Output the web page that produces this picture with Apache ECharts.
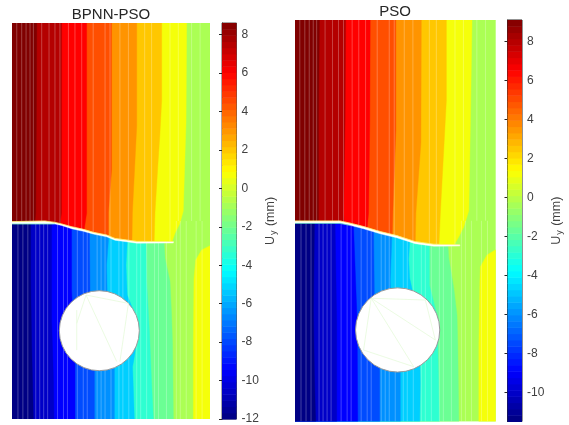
<!DOCTYPE html>
<html><head><meta charset="utf-8">
<style>html,body{margin:0;padding:0;background:#fff}#c{width:569px;height:425px}</style>
<script src="https://cdn.jsdelivr.net/npm/echarts@6/dist/echarts.min.js"></script>
</head><body><div id="c"></div>
<script>
// Model coordinates: x 0..100, y 0..200 ; values in mm
const titles = ['BPNN-PSO', 'PSO'];
const cbRange1 = [-12, 8.6];
const cbRange2 = [-11.5, 9.1];
const ticks1 = [-12,-10,-8,-6,-4,-2,0,2,4,6,8];
const ticks2 = [-10,-8,-6,-4,-2,0,2,4,6,8];
// displacement of each filled band, lowest to highest
const bandValues1 = [-11.9,-10.56,-9.42,-7.88,-6.52,-5.24,-3.35,-2.11,-0.83,0.67,2.0,3.04,4.42,6.03,7.53,8.6];
const bandValues2 = [-11.4,-10.06,-8.92,-7.38,-6.02,-4.74,-2.85,-1.61,-0.33,1.17,2.5,3.54,4.92,6.53,8.03,9.1];

const crackUpper1 = [[0,99.7],[16.7,100],[21.7,99.3],[25.1,98.5],[30.1,97.1],[36,95.8],[41,94.3],[47.8,92.9],[52,91.2],[57.9,90.4],[63,89.7],[81.5,89.6]];
const crackLower1 = [[0,98.5],[16.7,98.5],[21.7,98.5],[25.1,97.7],[30.1,96.1],[36,94.8],[41,93.4],[47.8,92],[52,90.3],[57.9,89.5],[63,88.8],[81.5,88.9]];
const crackUpper2 = [[0,99.9],[22.5,99.9],[27.5,98.8],[34.2,97.1],[42.5,94.6],[50.8,92.6],[60,89.6],[69.2,88.3],[82.2,88]];
const crackLower2 = [[0,98.7],[22.5,98.7],[27.5,97.7],[34.2,96],[42.5,93.5],[50.8,91.5],[60,88.6],[69.2,87.3],[82.2,87.4]];

// contour lines above the crack, left to right, top to crack
const upper1 = [
 [[12.5,200],[12.3,150],[12,104],[11.6,99.5]],
 [[25.1,200],[25,104],[24.3,98.7]],
 [[37.7,200],[37.7,104],[36.5,96]],
 [[50.3,200],[50.3,126],[48.7,104],[48.7,93]],
 [[63,200],[63,148],[60.8,104],[60.6,90.2]],
 [[75.6,200],[75.6,161],[74.7,144],[73.6,127],[72.2,104],[71.8,89.6]],
 [[88.2,200],[87.9,150],[86.5,105],[84.8,98.8],[82.3,93.8],[81,90]]
];
const upper2 = [
 [[12.2,200],[11.7,150],[11.7,104],[11.7,99]],
 [[25.3,200],[25,150],[24.2,104],[24.5,98.8]],
 [[37.5,200],[37.3,150],[36.7,104],[36,96]],
 [[50.3,200],[50.3,145],[48.8,104],[48.5,92.8]],
 [[63,200],[62.8,139],[60.3,104],[60,89.5]],
 [[75.5,200],[75.5,160],[72.5,104],[71.8,88]],
 [[88.3,200],[87.5,150],[86.7,105],[84.2,97],[81.7,92],[79.5,88.2]]
];
// contour lines below the crack, left to right, crack to bottom
const lower1 = [
 [[9.4,98],[9.4,71.9],[9.9,38.2],[10.8,0]],
 [[20,97.7],[20,50],[20.9,21.4],[21.2,0]],
 [[30.1,96],[30.1,65.2],[31.8,27.3],[31.8,0]],
 [[39.1,94.6],[39.4,64.3],[41.6,24.7],[41.6,0]],
 [[48.7,90],[47.8,77.8],[48.1,61.8],[51.7,26.4],[51.7,0]],
 [[58.2,89],[57.6,77.8],[58.2,62.6],[63.8,48.3],[62.1,33.2],[60.9,26.4],[61.8,0]],
 [[67.7,87.9],[68,69.4],[69.4,44.1],[70.5,18],[71.4,0]],
 [[76.8,88.7],[77.3,81.1],[79.8,69.4],[80.6,52.5],[81.1,37.4],[81.5,0]]
];
const lower2 = [
 [[9.7,98.4],[9.2,55.6],[9.7,22.3],[10.3,0]],
 [[20,97.5],[20.8,50],[20.8,22],[20.8,0]],
 [[29.2,97],[31,50],[31.3,0]],
 [[39.2,94],[39.6,60],[42.2,25],[42.2,0]],
 [[48.3,91.5],[47.5,70],[48,50],[52.5,25],[52.5,0]],
 [[57.2,89],[56.7,81],[57.2,71.4],[62,50],[62.5,19],[62.2,0]],
 [[67,88],[67,68],[70.8,53],[71.5,25],[72,0]],
 [[76.3,87.2],[76.7,81.3],[79.2,66.4],[80.8,53],[81.2,38],[81.7,0]]
];
// closed positive-displacement lobe at the lower right
const lobe1 = [[100,87.5],[95.8,85.4],[92.8,80.3],[91.9,71],[91.6,37.4],[91.6,0]];
const lobe2 = [[100,85.5],[95.8,83],[92.5,77.2],[92.2,69.7],[91.7,38],[91.7,0]];

const hole1 = [44.1,44.6,20.2];
const hole2 = [51.2,45.6,21];
const holeMesh1 = [[[37.4,62.6],[52.9,29]],[[37.4,62.6],[32.7,48.3]],[[58.8,58.4],[54.5,29]],[[37.4,62.6],[58.8,58.4]],[[32.7,55],[32.7,34.8]]];
const holeMesh2 = [[[38,61.4],[70,40.6]],[[38,61.4],[59.2,27.3]],[[38,61.4],[34.2,35.6]],[[34.2,35.6],[59.2,27.3]],[[38,61.4],[65,60.5]],[[65,60.5],[70,40.6]]];
const streaksUp = [2.4,4.9,7.1,9.1,10.8,15,18.7,21.7,24.2,28.5,31.8,35.2,41,47,49.5,54.5,58.8,67,70.5,79.8,84,90.7,95];
const streaksLow = [3,5.5,8,12,14,16,18,23,26,28,33,36,38,43,45,47,50,54,56,59,63,65,68,72,74,78,83,85,88,93,96];

function jet(t){
  const c=v=>Math.round(255*Math.max(0,Math.min(1,v)));
  return `rgb(${c(Math.min(4*t-1.5,-4*t+4.5))},${c(Math.min(4*t-0.5,-4*t+3.5))},${c(Math.min(4*t+0.5,-4*t+2.5))})`;
}
function crackY(cr,x){
  for(let i=1;i<cr.length;i++){ if(x<=cr[i][0]){const a=cr[i-1],b=cr[i];return a[1]+(b[1]-a[1])*(x-a[0])/(b[0]-a[0]);} }
  return cr[cr.length-1][1];
}
function buildShapes(p){
  const col=k=>jet((p.vals[k]-p.range[0])/(p.range[1]-p.range[0]));
  const S=[];
  S.push({t:'poly',pts:[[0,0],[100,0],[100,200],[0,200]],fill:col(8)});
  S.push({t:'poly',pts:[...p.lobe,[100,0]],fill:col(9)});
  for(let i=p.upper.length-1;i>=0;i--){
    const b=p.upper[i],e=b[b.length-1][0];
    S.push({t:'poly',pts:[[0,200],...b,[e,crackY(p.cu,e)],...p.cu.filter(q=>q[0]<e).reverse()],fill:col(15-i)});
  }
  for(let i=p.lower.length-1;i>=0;i--){
    const b=p.lower[i],s=b[0][0];
    S.push({t:'poly',pts:[...p.cl.filter(q=>q[0]<s),[s,crackY(p.cl,s)],...b,[0,0]],fill:col(i)});
  }
  p.streaksUp.forEach(x=>S.push({t:'line',pts:[[x,200],[x,x<81?crackY(p.cu,x):100]],stroke:'rgba(255,255,255,0.26)',w:1}));
  p.streaksLow.forEach(x=>S.push({t:'line',pts:[[x,x<81?crackY(p.cl,x):100],[x,0]],stroke:'rgba(255,255,255,0.26)',w:1}));
  S.push({t:'poly',pts:[...p.cu,...p.cl.slice().reverse()],fill:'#fff'});
  S.push({t:'line',pts:p.cu,stroke:'rgba(255,240,80,0.8)',w:0.8});
  S.push({t:'line',pts:p.cl.slice(0,3),stroke:'rgba(60,230,170,0.7)',w:0.8});
  S.push({t:'circle',c:p.hole});
  p.mesh.forEach(m=>S.push({t:'line',pts:m,stroke:'#e6fadb',w:0.8}));
  return S;
}
function contourSeries(S,idx){
  return {type:'custom',xAxisIndex:idx,yAxisIndex:idx,coordinateSystem:'cartesian2d',silent:true,animation:false,clip:true,
    data:S.map((_,i)=>[i]),
    renderItem:(params,api)=>{
      const s=S[params.dataIndex];
      if(s.t==='poly') return {type:'polygon',shape:{points:s.pts.map(q=>api.coord(q))},style:{fill:s.fill,stroke:s.fill,lineWidth:0.4}};
      if(s.t==='line') return {type:'polyline',shape:{points:s.pts.map(q=>api.coord(q))},style:{fill:'none',stroke:s.stroke,lineWidth:s.w}};
      const c=api.coord([s.c[0],s.c[1]]);
      return {type:'circle',shape:{cx:c[0],cy:c[1],r:api.size([s.c[2],0])[0]},style:{fill:'#fff',stroke:'#9a9a9a',lineWidth:1}};
    }};
}
function colorbarSeries(range,idx){
  const n=64,d=[];
  for(let i=0;i<n;i++) d.push([range[0]+(range[1]-range[0])*i/n,range[0]+(range[1]-range[0])*(i+1)/n,(i+0.5)/n]);
  return {type:'custom',xAxisIndex:idx,yAxisIndex:idx,coordinateSystem:'cartesian2d',silent:true,animation:false,data:d,
    encode:{y:[0,1]},
    renderItem:(params,api)=>{
      const a=api.coord([0,api.value(0)]),b=api.coord([1,api.value(1)]);
      const col=jet(api.value(2));
      return {type:'rect',shape:{x:a[0],y:b[1],width:b[0]-a[0],height:a[1]-b[1]+0.5},style:{fill:col}};
    }};
}
const P1={vals:bandValues1,range:cbRange1,upper:upper1,lower:lower1,lobe:lobe1,cu:crackUpper1,cl:crackLower1,hole:hole1,mesh:holeMesh1,streaksUp,streaksLow};
const P2={vals:bandValues2,range:cbRange2,upper:upper2,lower:lower2,lobe:lobe2,cu:crackUpper2,cl:crackLower2,hole:hole2,mesh:holeMesh2,streaksUp,streaksLow};

const FONT='"Liberation Sans",Arial,sans-serif';
const rich={u:{fontFamily:FONT,fontSize:12.5,color:'#404040'},s:{fontFamily:FONT,fontSize:9,color:'#404040',verticalAlign:'bottom',padding:[6,1,0,1]}};
function cbAxis(range,ticks,idx){
  return {type:'value',gridIndex:idx,position:'right',min:range[0],max:range[1],
    splitLine:{show:false},
    axisLine:{show:true,lineStyle:{color:'#262626',width:1}},
    axisTick:{show:true,inside:true,length:3,customValues:ticks,lineStyle:{color:'#262626'}},
    axisLabel:{customValues:ticks,margin:5,color:'#404040',fontFamily:FONT,fontSize:12,formatter:v=>String(v)},
    name:'{u|U}{s|y}{u| (mm)}',nameLocation:'middle',nameRotate:90,nameGap:27,nameTextStyle:{rich}};
}
const hiddenX=(g,mn,mx)=>({type:'value',gridIndex:g,min:mn,max:mx,show:false});
const hiddenY=(g,mn,mx)=>({type:'value',gridIndex:g,min:mn,max:mx,show:false});

const chart=echarts.init(document.getElementById('c'),null,{renderer:'canvas'});
chart.setOption({
  backgroundColor:'#fff',animation:false,
  title:[
    {text:titles[0],left:106,top:2,textAlign:'center',textStyle:{fontFamily:FONT,fontSize:15,fontWeight:'normal',color:'#262626'}},
    {text:titles[1],left:390,top:-1,textAlign:'center',textStyle:{fontFamily:FONT,fontSize:15,fontWeight:'normal',color:'#262626'}}
  ],
  grid:[
    {left:12,top:23,width:198,height:396},
    {left:295,top:20,width:200.5,height:401.5},
    {left:222,top:23,width:14.5,height:396,show:true,borderColor:'#555',borderWidth:1,backgroundColor:'transparent'},
    {left:507.5,top:20,width:14.5,height:401.5,show:true,borderColor:'#262626',borderWidth:1,backgroundColor:'transparent'}
  ],
  xAxis:[hiddenX(0,0,100),hiddenX(1,0,100),hiddenX(2,0,1),hiddenX(3,0,1)],
  yAxis:[hiddenY(0,0,200),hiddenY(1,0,200),cbAxis(cbRange1,ticks1,2),cbAxis(cbRange2,ticks2,3)],
  series:[contourSeries(buildShapes(P1),0),contourSeries(buildShapes(P2),1),colorbarSeries(cbRange1,2),colorbarSeries(cbRange2,3)]
});
</script></body></html>
